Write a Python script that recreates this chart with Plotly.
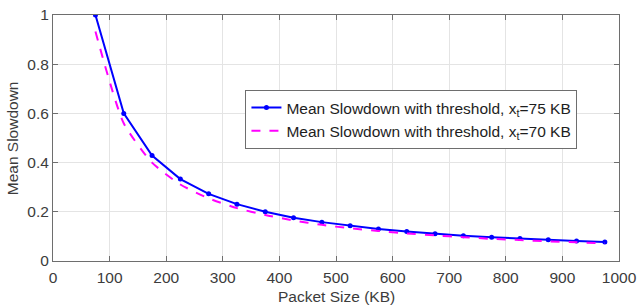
import plotly.graph_objects as go

packet_size = [75, 125, 175, 225, 275, 325, 375, 425, 475, 525, 575, 625, 675, 725, 775, 825, 875, 925, 975]
slowdown_75 = [1.0, 0.60, 0.429, 0.333, 0.273, 0.231, 0.200, 0.176, 0.158, 0.143, 0.130, 0.120, 0.111, 0.103, 0.097, 0.091, 0.086, 0.081, 0.077]
slowdown_70 = [0.933, 0.56, 0.40, 0.311, 0.255, 0.215, 0.187, 0.165, 0.147, 0.133, 0.122, 0.112, 0.104, 0.097, 0.090, 0.085, 0.080, 0.076, 0.072]

x_ticks = [0, 100, 200, 300, 400, 500, 600, 700, 800, 900, 1000]
y_ticks = [0, 0.2, 0.4, 0.6, 0.8, 1]
y_tick_labels = ["0", "0.2", "0.4", "0.6", "0.8", "1"]

FONT = "Liberation Sans, Arial, sans-serif"
TXT = "rgb(60,60,60)"

fig = go.Figure()
fig.add_trace(go.Scatter(
    x=packet_size, y=slowdown_75, mode="lines+markers",
    name="Mean Slowdown with threshold, x<sub>t</sub>=75 KB",
    line=dict(color="rgb(0,0,255)", width=2),
    marker=dict(size=5, color="rgb(0,0,255)"),
))
fig.add_trace(go.Scatter(
    x=packet_size, y=slowdown_70, mode="lines",
    name="Mean Slowdown with threshold, x<sub>t</sub>=70 KB",
    line=dict(color="rgb(255,0,255)", width=2, dash="dash", shape="spline", smoothing=0.6),
))

axis_common = dict(
    showgrid=True, gridcolor="rgb(228,228,228)", gridwidth=1,
    showline=True, linecolor="rgb(110,110,110)", linewidth=1, mirror="ticks",
    ticks="inside", ticklen=5, tickcolor="rgb(110,110,110)",
    zeroline=False, automargin=False,
    tickfont=dict(family=FONT, size=15.5, color=TXT),
)

fig.update_layout(
    width=637, height=306,
    margin=dict(l=53, r=18, t=15, b=45),
    paper_bgcolor="white", plot_bgcolor="white",
    font=dict(family=FONT, size=15, color=TXT),
    xaxis=dict(range=[0, 1000], tickvals=x_ticks, ticklabelstandoff=2, **axis_common),
    yaxis=dict(range=[0, 1], tickvals=y_ticks, ticktext=y_tick_labels, **axis_common),
    legend=dict(x=0.34, y=0.695, xanchor="left", yanchor="top",
                bgcolor="white", bordercolor="rgb(110,110,110)", borderwidth=1,
                font=dict(family=FONT, size=15.5, color="rgb(30,30,30)"),
                tracegroupgap=0, itemwidth=30),
    showlegend=True,
    annotations=[
        dict(text="Packet Size (KB)", xref="paper", yref="paper", x=0.5, y=-0.146,
             xanchor="center", yanchor="middle", showarrow=False,
             font=dict(family=FONT, size=15.5, color=TXT)),
        dict(text="Mean Slowdown", xref="paper", yref="paper", x=-0.072, y=0.5,
             xanchor="center", yanchor="middle", showarrow=False, textangle=-90,
             font=dict(family=FONT, size=15.5, color=TXT)),
    ],
)

fig.write_html("out.html", config={"displayModeBar": False},
               post_script="document.body.style.margin='0';document.body.style.overflow='hidden';")
